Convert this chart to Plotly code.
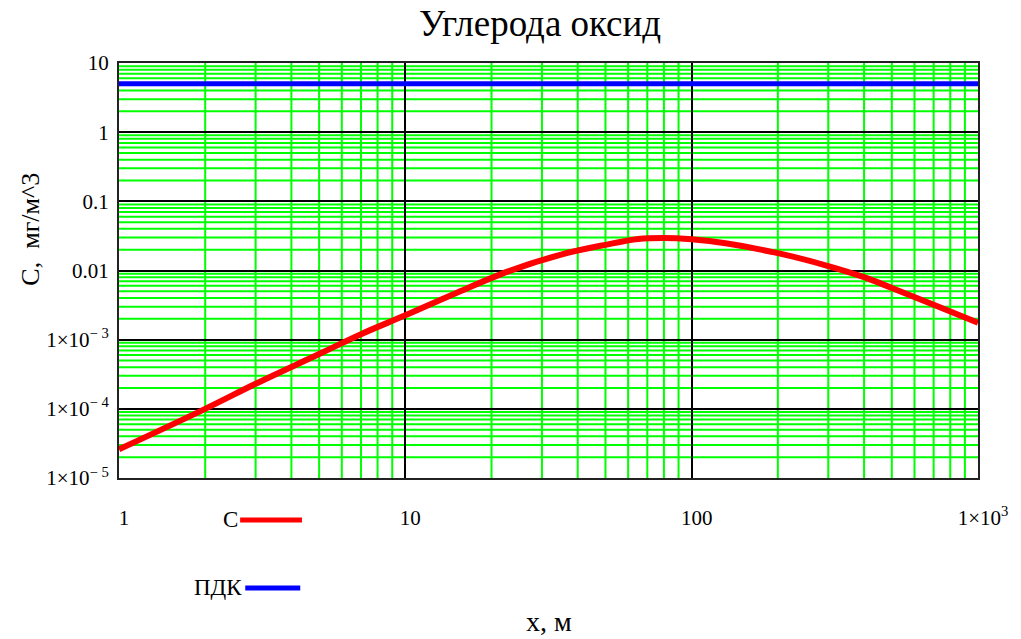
import plotly.graph_objects as go

# ---- data ----
x_vals = [1, 2, 3, 5, 7, 10, 15, 23, 35, 50, 65, 80, 100, 133, 200, 300, 400, 500, 700, 1000]
c_vals = [2.6e-5, 1.0e-4, 2.3e-4, 6.2e-4, 1.2e-3, 2.25e-3, 4.7e-3, 0.0098, 0.0170, 0.0235,
          0.0285, 0.0295, 0.0282, 0.0245, 0.0178, 0.0116, 0.0080, 0.0056, 0.0032, 0.00176]
pdk_x = [1, 1000]
pdk_vals = [5, 5]

x_tickvals = [1, 10, 100, 1000]
x_ticktext = ["1", "10", "100", "1×10<sup>3</sup>"]
y_tickvals = [1e-5, 1e-4, 1e-3, 0.01, 0.1, 1, 10]
y_ticktext = ["1×10<sup>−\u00a05</sup>", "1×10<sup>−\u00a04</sup>", "1×10<sup>−\u00a03</sup>",
              "0.01", "0.1", "1", "10"]

minor_x = [m * 10 ** k for k in range(0, 3) for m in range(2, 10)]
minor_y = [m * 10.0 ** k for k in range(-5, 1) for m in range(2, 10)]

FONT = "Liberation Serif"

fig = go.Figure()
fig.add_trace(go.Scatter(x=x_vals, y=c_vals, mode="lines",
                         line=dict(color="#ff0000", width=6, shape="spline", smoothing=1.0),
                         showlegend=False, name="C"))
fig.add_trace(go.Scatter(x=pdk_x, y=pdk_vals, mode="lines", line=dict(color="#0000ff", width=5),
                         showlegend=False, name="ПДК"))

# minor (green) grid drawn below the black decade grid
for v in minor_x:
    fig.add_shape(type="line", xref="x", yref="paper", x0=v, x1=v, y0=0, y1=1, layer="below",
                  line=dict(color="#00ff00", width=2))
for v in minor_y:
    fig.add_shape(type="line", xref="paper", yref="y", x0=0, x1=1, y0=v, y1=v, layer="below",
                  line=dict(color="#00ff00", width=2))

axis_common = dict(
    type="log",
    showline=True, mirror=True, linecolor="#222222", linewidth=2,
    showgrid=True, gridcolor="#000000", gridwidth=2,
    zeroline=False, ticks="",
    tickfont=dict(family=FONT, size=21, color="#000000"),
)

fig.update_xaxes(**axis_common, range=[0, 3], tickmode="array", tickvals=x_tickvals, ticktext=x_ticktext,
                 ticklabelstandoff=20, ticklabelshift=5)
fig.update_yaxes(**axis_common, range=[-5, 1], tickmode="array", tickvals=y_tickvals, ticktext=y_ticktext,
                 ticklabelstandoff=4)

# title and axis labels
fig.add_annotation(text="Углерода оксид", xref="paper", yref="paper", x=0.49, y=1.094, showarrow=False,
                   font=dict(family=FONT, size=37, color="#000000"), xanchor="center", yanchor="middle")
fig.add_annotation(text="x, м", xref="paper", yref="paper", x=0.5, y=-0.345, showarrow=False,
                   font=dict(family=FONT, size=28, color="#000000"), xanchor="center", yanchor="middle")
fig.add_annotation(text="C,\u00a0\u00a0мг/м^3", xref="paper", yref="paper", x=-0.104, y=0.60, showarrow=False,
                   textangle=-90, font=dict(family=FONT, size=26, color="#000000"),
                   xanchor="center", yanchor="middle")

# custom legend (Mathcad style: text then line)
fig.add_annotation(text="C", xref="paper", yref="paper", x=0.141, y=-0.101, showarrow=False,
                   font=dict(family=FONT, size=23, color="#000000"), xanchor="right", yanchor="middle")
fig.add_shape(type="line", xref="paper", yref="paper", x0=0.141, x1=0.213, y0=-0.101, y1=-0.101,
              line=dict(color="#ff0000", width=5))
fig.add_annotation(text="ПДК", xref="paper", yref="paper", x=0.145, y=-0.265, showarrow=False,
                   font=dict(family=FONT, size=23, color="#000000"), xanchor="right", yanchor="middle")
fig.add_shape(type="line", xref="paper", yref="paper", x0=0.147, x1=0.211, y0=-0.265, y1=-0.265,
              line=dict(color="#0000ff", width=5))

fig.update_layout(
    width=1021, height=639,
    margin=dict(l=119, r=43, t=63, b=161),
    paper_bgcolor="#ffffff", plot_bgcolor="#ffffff",
    showlegend=False,
)

fig.write_html("out.html", config={"displayModeBar": False},
               post_script="document.body.style.margin='0';document.body.style.overflow='hidden';")
